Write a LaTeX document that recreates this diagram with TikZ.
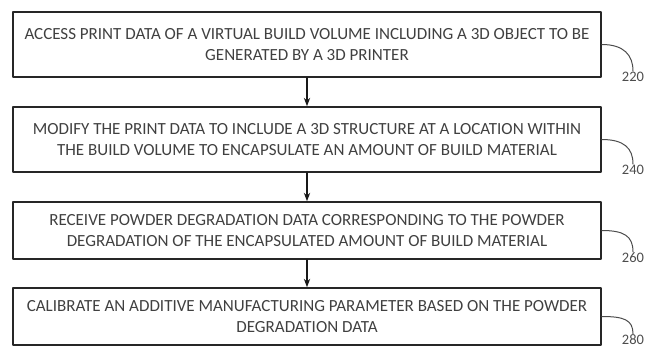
\documentclass[tikz,border=0pt]{standalone}
\usepackage{fontspec}
\setmainfont{Carlito}
\usetikzlibrary{arrows.meta}
\begin{document}
\begin{tikzpicture}[x=1pt,y=-1pt,>=Stealth,line join=round,line cap=round,
	box/.style={draw=black!85,line width=1.6pt,minimum width=588pt,align=center,text=black!75,font=\fontsize{17}{21.5}\selectfont},
	flow/.style={->,line width=1.2pt,black!90},
	refnum/.style={text=black!70,font=\fontsize{14.5}{16}\selectfont,inner sep=1pt},
	callout/.style={line width=1pt,black!70}]
	\useasboundingbox (0,0) rectangle (648,350);
	\node[box,minimum height=65pt] (s220) at (307,44.5) {ACCESS PRINT DATA OF A VIRTUAL BUILD VOLUME INCLUDING A 3D OBJECT TO BE\\GENERATED BY A 3D PRINTER};
	\node[box,minimum height=65pt] (s240) at (307,139.5) {MODIFY THE PRINT DATA TO INCLUDE A 3D STRUCTURE AT A LOCATION WITHIN\\THE BUILD VOLUME TO ENCAPSULATE AN AMOUNT OF BUILD MATERIAL};
	\node[box,minimum height=57pt] (s260) at (307,230.5) {RECEIVE POWDER DEGRADATION DATA CORRESPONDING TO THE POWDER\\DEGRADATION OF THE ENCAPSULATED AMOUNT OF BUILD MATERIAL};
	\node[box,minimum height=57pt] (s280) at (307,316.5) {CALIBRATE AN ADDITIVE MANUFACTURING PARAMETER BASED ON THE POWDER\\DEGRADATION DATA};
	\draw[flow] (s220) -- (s240);
	\draw[flow] (s240) -- (s260);
	\draw[flow] (s260) -- (s280);
	\node[refnum] (n220) at (633,77) {220};
	\node[refnum] (n240) at (633,170) {240};
	\node[refnum] (n260) at (633,258) {260};
	\node[refnum] (n280) at (633,340) {280};
	\draw[callout] (s220.east) .. controls +(22,0) and +(0,-16) .. (n220.north);
	\draw[callout] (s240.east) .. controls +(22,0) and +(0,-16) .. (n240.north);
	\draw[callout] (s260.east) .. controls +(22,0) and +(0,-16) .. (n260.north);
	\draw[callout] (s280.east) .. controls +(22,0) and +(0,-14) .. (n280.north);
\end{tikzpicture}
\end{document}
